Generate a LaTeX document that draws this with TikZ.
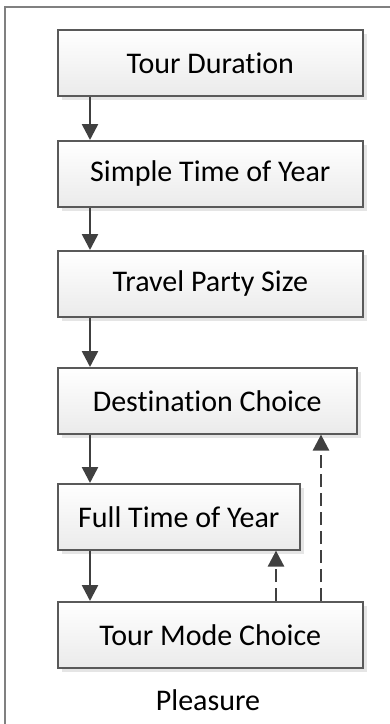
\documentclass[tikz,border=0pt]{standalone}
\usepackage{fontspec}
\setmainfont{Carlito}[Ligatures=NoCommon]
\usetikzlibrary{arrows.meta,shadows}

\begin{document}
\begin{tikzpicture}[x=1pt,y=-1pt,
  box/.style = {draw=black!65, line width=1.6pt, top color=white, bottom color=black!8,
    general shadow={fill=black!10, shadow xshift=4pt, shadow yshift=-4pt},
    minimum height=66pt, anchor=north west, inner sep=0pt, font=\fontsize{30}{36}\selectfont},
  flow/.style = {draw=black!75, line width=2.6pt, -{Triangle[length=16pt,width=16pt]}},
  back/.style = {flow, dash pattern=on 13pt off 6pt}]

\useasboundingbox (0,0) rectangle (390,724);
\draw[black!50, line width=2pt] (5,724) -- (5,7) -- (390,7);

\node[box, minimum width=305pt] (td) at (57,29) {Tour Duration};
\node[box, minimum width=305pt] (sty) at (57,140) {Simple Time of Year};
\node[box, minimum width=305pt] (tps) at (57,250) {Travel Party Size};
\node[box, minimum width=299pt] (dc) at (57,367) {Destination Choice};
\node[box, minimum width=242pt] (fty) at (57,483) {Full Time of Year};
\node[box, minimum width=305pt] (tmc) at (57,601) {Tour Mode Choice};
\node[font=\fontsize{30}{36}\selectfont] (lbl) at (208,700) {Pleasure};

\draw[flow] ([xshift=33pt]td.south west) -- ([xshift=33pt]sty.north west);
\draw[flow] ([xshift=33pt]sty.south west) -- ([xshift=33pt]tps.north west);
\draw[flow] ([xshift=33pt]tps.south west) -- ([xshift=33pt]dc.north west);
\draw[flow] ([xshift=33pt]dc.south west) -- ([xshift=33pt]fty.north west);
\draw[flow] ([xshift=33pt]fty.south west) -- ([xshift=33pt]tmc.north west);

\draw[back] ([xshift=219pt]tmc.north west) -- ([xshift=219pt]fty.south west);
\draw[back] ([xshift=264pt]tmc.north west) -- ([xshift=264pt]dc.south west);

\end{tikzpicture}
\end{document}
